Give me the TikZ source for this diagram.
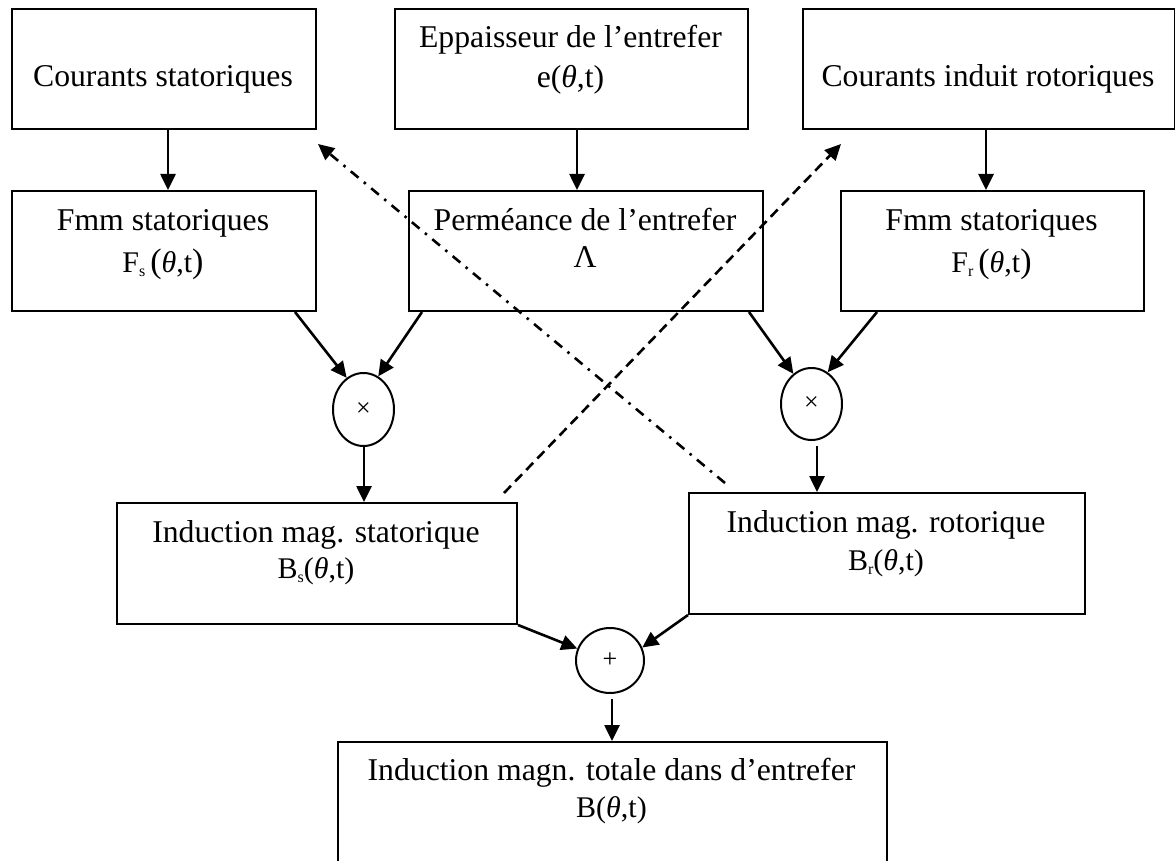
\documentclass[tikz,border=0pt]{standalone}
\usepackage{fontspec}
\setmainfont{Liberation Serif}
\usetikzlibrary{arrows.meta,shapes.geometric}
\newcommand\thetaI{\textit{θ}}
\newcommand\bigpar[1]{{\fontsize{34}{34}\selectfont#1}}
\newcommand\lowsub[1]{\raisebox{-0.3ex}{\fontsize{16}{16}\selectfont#1}}
\begin{document}
\begin{tikzpicture}[x=1pt,y=-1pt,
  box/.style 2 args={draw, line width=2pt, inner sep=0pt, anchor=north west,
    minimum width=#1, minimum height=#2},
  op/.style 2 args={draw, ellipse, line width=2pt, inner sep=0pt,
    minimum width=#1, minimum height=#2, font=\fontsize{26}{26}\selectfont},
  lab/.style={anchor=base, inner sep=0pt, font=\fontsize{31.7}{38}\selectfont},
  sublab/.style={anchor=base, inner sep=0pt, font=\fontsize{30}{34}\selectfont},
  arr/.style={line width=2.6pt, -{Triangle[length=16pt,width=15pt]}},
  dashline/.style={arr, dash pattern=on 10pt off 6pt},
  dotdashline/.style={arr, dash pattern=on 10pt off 7pt on 2.5pt off 7pt}]
\clip (0,0) rectangle (1175,861);

% boxes
\node[box={304}{120}] (cs) at (11,8) {};
\node[box={353}{120}] (ep) at (394,8) {};
\node[box={372}{120}] (cr) at (802,8) {};
\node[box={304}{120}] (fs) at (11,190) {};
\node[box={354}{120}] (pm) at (408,190) {};
\node[box={303}{120}] (fr) at (840,190) {};
\node[box={400}{121}] (bs) at (116,502) {};
\node[box={396}{121}] (br) at (688,492) {};
\node[box={549}{140}] (bt) at (337,741) {};

% operators
\node[op={61}{73}] (mx) at (363.5,409.5) {×};
\node[op={61}{72}] (mr) at (811.5,404) {×};
\node[op={68}{65}] (pl) at (610,660.5) {+};

% texts
\node[lab] (tcs) at (163,87) {Courants statoriques};
\node[lab] (tep1) at (570.5,48) {Eppaisseur de l’entrefer};
\node[lab] (tep2) at (570.5,88) {e(\thetaI,t)};
\node[lab] (tcr) at (988,87) {Courants induit rotoriques};
\node[lab] (tfs1) at (163,230) {Fmm statoriques};
\node[sublab] (tfs2) at (163,272) {F\lowsub{s}\,\bigpar{(}\thetaI,t\bigpar{)}};
\node[lab] (tpm1) at (585,230) {Perméance de l’entrefer};
\node[lab] (tpm2) at (585,267) {Λ};
\node[lab] (tfr1) at (991.5,230) {Fmm statoriques};
\node[sublab] (tfr2) at (991.5,272) {F\lowsub{r}\,\bigpar{(}\thetaI,t\bigpar{)}};
\node[lab] (tbs1) at (316,542) {Induction mag. statorique};
\node[sublab] (tbs2) at (316,578) {B\lowsub{s}(\thetaI,t)};
\node[lab] (tbr1) at (886,532) {Induction mag. rotorique};
\node[sublab] (tbr2) at (886,570) {B\lowsub{r}(\thetaI,t)};
\node[lab] (tbt1) at (611.5,780) {Induction magn. totale dans d’entrefer};
\node[sublab] (tbt2) at (611.5,817) {B(\thetaI,t)};

% solid connectors
\draw[arr] ([xshift=4pt]cs.south) coordinate (a1) -- (a1 |- fs.north);
\draw[arr] ([xshift=5.5pt]ep.south) coordinate (a2) -- (a2 |- pm.north);
\draw[arr] ([xshift=-3pt]cr.south) coordinate (a3) -- (a3 |- fr.north);
\draw[arr] ([xshift=-22pt]fs.south east) -- (mx.118);
\draw[arr] ([xshift=14pt]pm.south west) -- (mx.66);
\draw[arr] ([xshift=-15pt]pm.south east) -- (mr.121);
\draw[arr] ([xshift=37pt]fr.south west) -- (mr.63);
\draw[arr] ([xshift=0.5pt]mx.south) coordinate (a4) -- (a4 |- bs.north);
\draw[arr] ([xshift=5.5pt,yshift=-5pt]mr.south) coordinate (a5) -- (a5 |- br.north);
\draw[arr] (bs.south east) -- (pl.160);
\draw[arr] (br.south west) -- (pl.22);
\draw[arr] ([xshift=2pt,yshift=-5pt]pl.south) coordinate (a6) -- (a6 |- bt.north);

% feedback connectors
\draw[dashline] ([shift={(-14pt,9pt)}]bs.north east) -- ([shift={(39pt,-14pt)}]cr.south west);
\draw[dotdashline] ([shift={(37pt,9pt)}]br.north west) -- ([shift={(1pt,-14pt)}]cs.south east);
\end{tikzpicture}
\end{document}
